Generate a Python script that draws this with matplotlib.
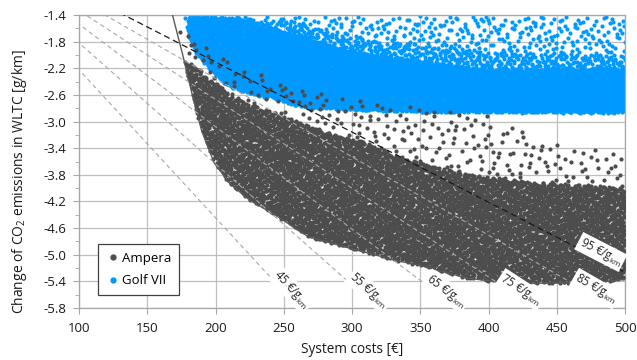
import numpy as np
import matplotlib
matplotlib.use("Agg")
import matplotlib.pyplot as plt
from matplotlib.lines import Line2D

plt.rcParams['font.family'] = ['Open Sans', 'DejaVu Sans']
plt.rcParams['axes.unicode_minus'] = False
plt.rcParams['mathtext.fontset'] = 'custom'
plt.rcParams['mathtext.rm'] = 'Open Sans'

# ---------------- data ----------------
# cost-effectiveness iso-lines (EUR per g/km)
iso_k = [45, 55, 65, 75, 85, 95]
iso_label_x = [252, 309, 366, 421, 476, 480]

# Ampera: lower/left envelope (solid boundary line)
amp_low_x = [168.5, 176, 183, 190, 199, 210, 225, 245, 268, 298, 335, 350, 384, 408, 432, 457, 486, 500]
amp_low_y = [-1.40, -2.00, -2.60, -3.15, -3.62, -3.92, -4.18, -4.42, -4.73, -4.90, -5.10, -5.16, -5.35, -5.41, -5.43, -5.42, -5.40, -5.37]
# Ampera: top of dense cloud
amp_dense_x = [176, 190, 212, 261, 288, 310, 337, 386, 430, 470, 500]
amp_dense_y = [-2.05, -2.25, -2.63, -3.00, -3.20, -3.30, -3.55, -3.80, -3.90, -3.95, -4.00]
# Ampera: top of sparse points
amp_sparse_x = [170, 200, 250, 300, 350, 400, 430, 460, 500]
amp_sparse_y = [-1.50, -2.00, -2.45, -2.65, -2.80, -2.90, -3.20, -3.40, -3.45]

# Golf VII: lower/left envelope
golf_low_x = [175, 177, 186, 196, 208, 220, 232, 247, 261, 298, 349, 500]
golf_low_y = [-1.40, -1.62, -1.97, -2.23, -2.45, -2.56, -2.63, -2.68, -2.78, -2.83, -2.86, -2.87]
# Golf VII: top of dense cloud
golf_dense_x = [180, 220, 260, 300, 350, 400, 500]
golf_dense_y = [-1.40, -1.45, -1.70, -1.95, -2.10, -2.20, -2.20]
# Golf VII: top of medium-density cloud
golf_mid_x = [180, 260, 300, 350, 400, 500]
golf_mid_y = [-1.40, -1.50, -1.75, -1.85, -1.95, -2.00]

x_ticks = [100, 150, 200, 250, 300, 350, 400, 450, 500]
y_ticks = [-5.8, -5.4, -5.0, -4.6, -4.2, -3.8, -3.4, -3.0, -2.6, -2.2, -1.8, -1.4]

GREY = '#4d4d4d'
BLUE = '#0099ff'


def halton(n, base, start):
    out = np.empty(n)
    for i in range(n):
        f, r, k = 1.0, 0.0, i + 1 + start
        while k > 0:
            f /= base
            r += f * (k % base)
            k //= base
        out[i] = r
    return out


def cloud(n, start, low_x, low_y, top_x, top_y, bot_x=None, bot_y=None,
          ylo=-5.8, yhi=-1.4, xlo=100, xhi=500):
    u = halton(n, 2, start)
    v = halton(n, 3, start)
    x = xlo + u * (xhi - xlo)
    y = ylo + v * (yhi - ylo)
    lo = np.interp(x, low_x, low_y, left=10, right=low_y[-1])
    ok = (x >= low_x[0]) & (y >= lo)
    hi = np.interp(x, top_x, top_y, left=-10, right=top_y[-1])
    ok &= y <= hi
    if bot_x is not None:
        bt = np.interp(x, bot_x, bot_y, left=-10, right=bot_y[-1])
        ok &= y > bt
    return x[ok], y[ok]


fig = plt.figure(figsize=(6.37, 3.6), dpi=100)
ax = fig.add_axes([79 / 637, 1 - 308 / 360, 546 / 637, 293 / 360])
ax.set_xlim(100, 500)
ax.set_ylim(-5.8, -1.4)

# Golf VII cloud
gx1, gy1 = cloud(13000, 11, golf_low_x, golf_low_y, golf_dense_x, golf_dense_y,
                 xlo=172, ylo=-2.9, yhi=-1.38)
gx2, gy2 = cloud(4000, 15000, golf_low_x, golf_low_y, golf_mid_x, golf_mid_y,
                 bot_x=golf_dense_x, bot_y=golf_dense_y, xlo=172, ylo=-2.9, yhi=-1.38)
gx3, gy3 = cloud(1300, 21000, golf_low_x, golf_low_y, [170, 500], [-1.42, -1.42],
                 bot_x=golf_mid_x, bot_y=golf_mid_y, xlo=172, ylo=-2.9, yhi=-1.38)
ax.scatter(np.concatenate([gx1, gx2, gx3]), np.concatenate([gy1, gy2, gy3]),
           s=9, color=BLUE, linewidths=0, zorder=2)

# Ampera cloud
ax1, ay1 = cloud(20000, 30000, amp_low_x, amp_low_y, amp_dense_x, amp_dense_y,
                 xlo=165, ylo=-5.5, yhi=-1.4)
ax2, ay2 = cloud(1500, 60000, amp_low_x, amp_low_y, amp_sparse_x, amp_sparse_y,
                 bot_x=amp_dense_x, bot_y=amp_dense_y, xlo=165, ylo=-5.5, yhi=-1.4)
ax.scatter(np.concatenate([ax1, ax2]), np.concatenate([ay1, ay2]),
           s=9, color=GREY, linewidths=0, zorder=3)
ax.plot(amp_low_x, amp_low_y, color='#5a5a5a', lw=1.0, zorder=3.5)

# iso-cost lines
xs = np.linspace(0, 520, 200)
for k, lx in zip(iso_k, iso_label_x):
    if k == 95:
        ax.plot(xs, -xs / k, color='#1a1a1a', lw=0.9, dashes=(5, 3), zorder=4)
    else:
        ax.plot(xs, -xs / k, color='#a8a8a8', lw=0.8, dashes=(4, 3), zorder=4)
    p1 = ax.transData.transform((lx - 5, -(lx - 5) / k))
    p2 = ax.transData.transform((lx + 5, -(lx + 5) / k))
    d = (p2 - p1) / np.hypot(*(p2 - p1))
    ang = np.degrees(np.arctan2(d[1], d[0]))
    nrm = np.array([-d[1], d[0]])
    pc = ax.transData.transform((lx, -lx / k)) + 7 * nrm
    tx, ty = ax.transData.inverted().transform(pc)
    ax.text(tx, ty, f"{k} €/g$_\\mathregular{{km}}$", rotation=ang, rotation_mode='anchor',
            ha='center', va='center', fontsize=8.3, color='#262626', zorder=5,
            bbox=dict(boxstyle='square,pad=0.15', fc='white', ec='none'))

# axes styling
ax.set_xticks(x_ticks)
ax.set_yticks(y_ticks)
ax.set_yticklabels([f"{v:.1f}" for v in y_ticks])
ax.set_yticks(np.array(y_ticks[:-1]) + 0.2, minor=True)
ax.grid(True, which='major', color='#bfbfbf', lw=0.9, zorder=0)
ax.set_axisbelow(True)
for s in ax.spines.values():
    s.set_color('#a6a6a6')
    s.set_linewidth(0.9)
ax.tick_params(axis='x', which='major', direction='out', length=4, color='#a6a6a6',
               labelsize=9.5, labelcolor='#1a1a1a', pad=6)
ax.tick_params(axis='y', which='major', direction='out', length=4, color='#a6a6a6',
               labelsize=9.5, labelcolor='#1a1a1a', pad=5)
ax.tick_params(axis='y', which='minor', direction='out', length=3, color='#a6a6a6')
ax.set_xlabel("System costs [€]", fontsize=9.8, color='#1a1a1a', labelpad=5)
ax.set_ylabel("Change of CO$_\\mathregular{2}$ emissions in WLTC [g/km]", fontsize=10,
              color='#1a1a1a')
ax.yaxis.set_label_coords(-0.092, 0.43)

handles = [Line2D([], [], ls='none', marker='o', ms=3.5, color=GREY, label='Ampera'),
           Line2D([], [], ls='none', marker='o', ms=3.5, color=BLUE, label='Golf VII')]
leg = ax.legend(handles=handles, loc='lower left', bbox_to_anchor=(0.035, 0.044),
                borderaxespad=0, fancybox=False, framealpha=1, edgecolor='#404040',
                fontsize=9.5, handletextpad=0.2, handlelength=1.0, borderpad=0.6,
                labelspacing=0.7)
leg.get_frame().set_linewidth(0.9)
leg.set_zorder(6)

fig.savefig("out.png", dpi=100)
